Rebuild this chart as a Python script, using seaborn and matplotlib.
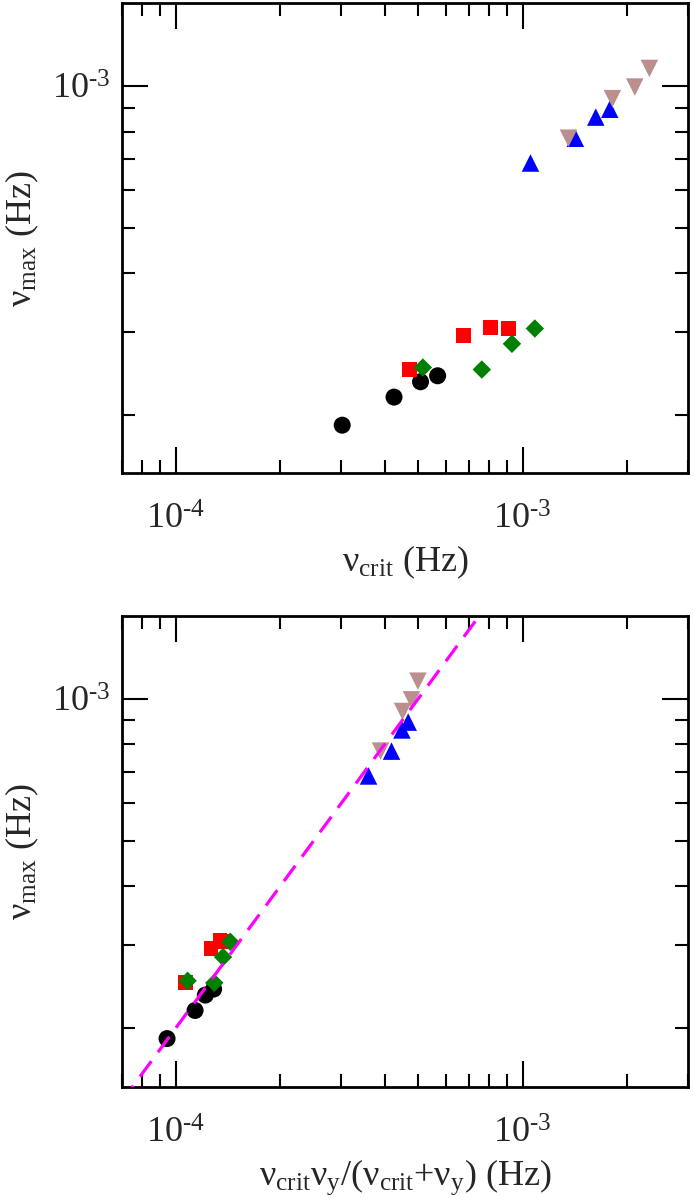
import numpy as np
import pandas as pd
import seaborn as sns
import matplotlib.pyplot as plt
from matplotlib.ticker import LogLocator, NullFormatter, FuncFormatter

# data (Hz)
groups = ["black", "red", "green", "blue", "brown"]

nu_crit_black = [3.02e-4, 4.26e-4, 5.08e-4, 5.69e-4]
nu_crit_red = [4.72e-4, 6.74e-4, 8.08e-4, 9.09e-4]
nu_crit_green = [5.16e-4, 7.63e-4, 9.32e-4, 1.085e-3]
nu_crit_blue = [1.054e-3, 1.42e-3, 1.626e-3, 1.784e-3]
nu_crit_brown = [1.356e-3, 1.816e-3, 2.107e-3, 2.321e-3]

nu_max_black = [1.90e-4, 2.18e-4, 2.35e-4, 2.42e-4]
nu_max_red = [2.50e-4, 2.95e-4, 3.07e-4, 3.05e-4]
nu_max_green = [2.52e-4, 2.495e-4, 2.83e-4, 3.05e-4]
nu_max_blue = [6.86e-4, 7.745e-4, 8.59e-4, 8.925e-4]
nu_max_brown = [7.745e-4, 9.40e-4, 9.95e-4, 1.09e-3]

# nu_crit*nu_y/(nu_crit+nu_y)
nu_eff_black = [9.44e-5, 1.137e-4, 1.217e-4, 1.286e-4]
nu_eff_red = [1.064e-4, 1.264e-4, 1.342e-4, 1.38e-4]
nu_eff_green = [1.082e-4, 1.292e-4, 1.369e-4, 1.436e-4]
nu_eff_blue = [3.597e-4, 4.19e-4, 4.49e-4, 4.68e-4]
nu_eff_brown = [3.895e-4, 4.508e-4, 4.784e-4, 4.993e-4]

fit_coeff = 2.0  # dashed line: nu_max = 2 * x

df = pd.DataFrame({
    "group": np.repeat(groups, 4),
    "nu_crit": nu_crit_black + nu_crit_red + nu_crit_green + nu_crit_blue + nu_crit_brown,
    "nu_max": nu_max_black + nu_max_red + nu_max_green + nu_max_blue + nu_max_brown,
    "nu_eff": nu_eff_black + nu_eff_red + nu_eff_green + nu_eff_blue + nu_eff_brown,
})

palette = {"black": "#000000", "red": "#ff0000", "green": "#008000",
           "blue": "#0000ff", "brown": "#bc8f8f"}
markers = {"black": "o", "red": "s", "green": "D", "blue": "^", "brown": "v"}
sizes = {"black": 150, "red": 115, "green": 88, "blue": 159, "brown": 159}

sns.set_style("white")
plt.rcParams["font.family"] = ["Liberation Serif", "DejaVu Serif"]
plt.rcParams["mathtext.fontset"] = "custom"
plt.rcParams["mathtext.rm"] = "Liberation Serif"
plt.rcParams["mathtext.it"] = "Liberation Serif:italic"
plt.rcParams["axes.unicode_minus"] = False


def pow_label(v, pos):
    e = int(round(np.log10(v)))
    return "10$^{\\text{%d}}$" % e


fig = plt.figure(figsize=(6.94, 11.98), dpi=100)
ax1 = fig.add_axes([0.1758, 0.6048, 0.8156, 0.3925])
ax2 = fig.add_axes([0.1758, 0.0927, 0.8156, 0.3932])

xlim = (7e-5, 3e-3)
ylim = (1.5e-4, 1.5e-3)

for ax, xcol in [(ax1, "nu_crit"), (ax2, "nu_eff")]:
    sns.scatterplot(data=df, x=xcol, y="nu_max", hue="group", style="group",
                    size="group", palette=palette, markers=markers, sizes=sizes,
                    edgecolor="none", linewidth=0, legend=False, ax=ax, zorder=3)
    ax.set_xscale("log")
    ax.set_yscale("log")
    ax.set_xlim(*xlim)
    ax.set_ylim(*ylim)
    for a in (ax.xaxis, ax.yaxis):
        a.set_major_locator(LogLocator(base=10))
        a.set_minor_locator(LogLocator(base=10, subs=np.arange(2, 10)))
        a.set_major_formatter(FuncFormatter(pow_label))
        a.set_minor_formatter(NullFormatter())
    ax.tick_params(which="both", direction="in", top=True, right=True,
                   bottom=True, left=True, width=1.5, color="black")
    ax.tick_params(which="major", length=19, labelsize=26)
    ax.tick_params(which="minor", length=9.5)
    ax.tick_params(axis="x", which="major", pad=22)
    ax.tick_params(axis="y", which="major", pad=8)
    for sp in ax.spines.values():
        sp.set_linewidth(2.0)
        sp.set_color("black")
    ax.set_ylabel("ν$_{\\rm max}$ (Hz)", fontsize=26, labelpad=8)

# dashed fit line in the lower panel
xl = np.array(xlim)
ax2.plot(xl, fit_coeff * xl, color="#ff00ff", lw=2.3, ls=(0, (6, 3.5)), zorder=4)
ax2.set_xlim(*xlim)
ax2.set_ylim(*ylim)

ax1.set_xlabel("ν$_{\\rm crit}$ (Hz)", fontsize=26, labelpad=5)
ax2.set_xlabel("ν$_{\\rm crit}$ν$_{\\rm y}$/(ν$_{\\rm crit}$+ν$_{\\rm y}$) (Hz)",
               fontsize=26, labelpad=5)

fig.savefig("out.png", dpi=100)
